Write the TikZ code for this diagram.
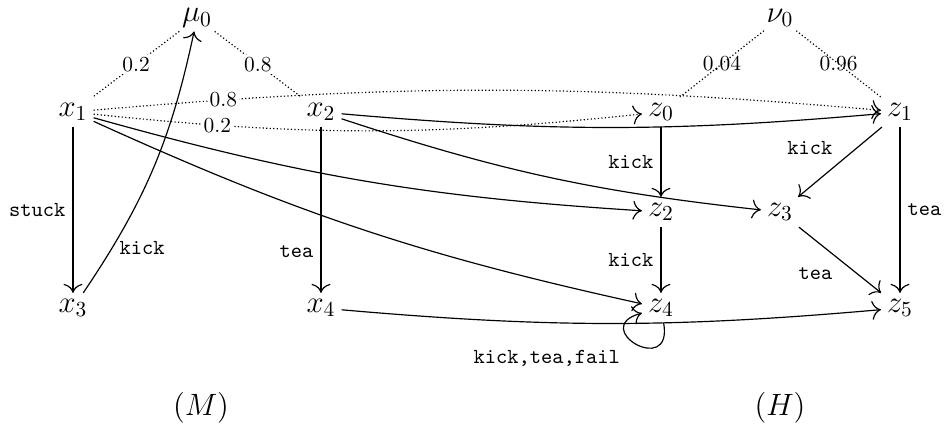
\documentclass[tikz,border=0pt]{standalone}
\usetikzlibrary{arrows.meta}
\begin{document}
\begin{tikzpicture}[x=0.467pt,y=-0.467pt,
  line width=0.55pt,
  st/.style={font=\Large, inner sep=2.6pt},
  lbl/.style={font=\ttfamily},
  prob/.style={fill=white, inner sep=1pt},
  probo/.style={inner sep=1pt},
  arr/.style={-{To[scale=1.5]}},
  dots/.style={dash pattern=on 0.55pt off 1.1pt}]
\useasboundingbox (0,0) rectangle (946,433);
% nodes
\node[st, inner sep=1.5pt] (mu) at (197,18) {$\mu_0$};
\node[st, inner sep=1.5pt] (nu) at (780,18) {$\nu_0$};
\node[st] (x1) at (73,112) {$x_1$};
\node[st] (x2) at (321,112) {$x_2$};
\node[st] (z0) at (661,112) {$z_0$};
\node[st] (z1) at (900,112) {$z_1$};
\node[st] (x3) at (73,308) {$x_3$};
\node[st] (x4) at (321,308) {$x_4$};
\node[st] (z2) at (661,212) {$z_2$};
\node[st] (z3) at (780,212) {$z_3$};
\node[st] (z4) at (661,308) {$z_4$};
\node[st] (z5) at (900,308) {$z_5$};
\node[st] (M) at (201,408) {$(M)$};
\node[st] (H) at (780,408) {$(H)$};
% initial distributions
\draw[dots] (mu) -- node[prob] {0.2} (x1);
\draw[dots] (mu) -- node[prob] {0.8} (x2);
\draw[dots] (nu) -- node[probo] {0.04} (z0);
\draw[dots] (nu) -- node[probo] {0.96} (z1);
% lifting
\draw[dots,arr] (x1) to[bend left=5] node[prob,pos=0.15] {0.8} (z1);
\draw[dots,arr] (x1) to[bend right=6] node[prob,pos=0.21] {0.2} (z0);
% solid correspondences
\draw[arr] (x2) to[bend right=5] (z1);
\draw[arr] (x1) to[bend right=6] (z2);
\draw[arr] (x1) to[bend right=6] (z4);
\draw[arr] (x2) to[bend right=6] (z3);
\draw[arr] (x4) to[bend right=5] (z5);
% transitions M
\draw[arr] (x1) -- node[lbl,left] {stuck} (x3);
\draw[arr] (x3) to[bend right=11] node[lbl,right,pos=0.17] {kick} (mu);
\draw[arr] (x2) -- node[lbl,left,pos=0.75] {tea} (x4);
% transitions H
\draw[arr] (z0) -- node[lbl,left] {kick} (z2);
\draw[arr] (z2) -- node[lbl,left] {kick} (z4);
\draw[arr] (z1) -- node[lbl,above left] {kick} (z3);
\draw[arr] (z1) -- node[lbl,right] {tea} (z5);
\draw[arr] (z3) -- node[lbl,below left] {tea} (z5);
\draw[arr] (z4) to[out=-80,in=195,looseness=6]
  node[lbl,pos=0.5,anchor=north east,xshift=-4pt,yshift=1pt] {kick,tea,fail} (z4);
\end{tikzpicture}
\end{document}
